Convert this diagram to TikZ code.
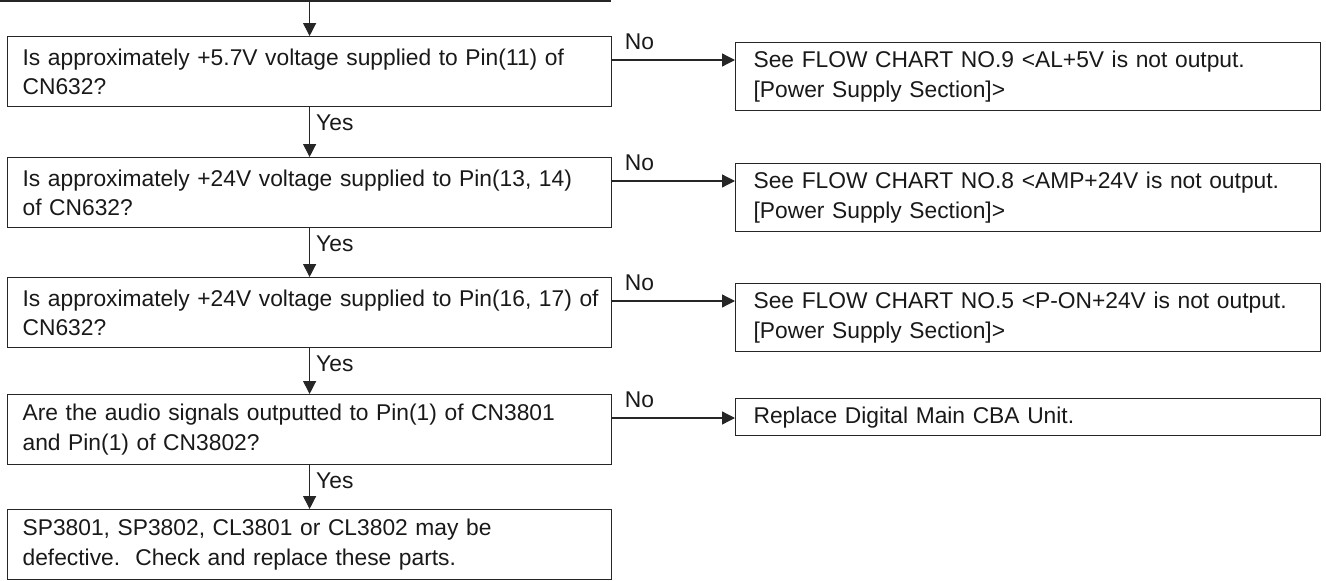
\documentclass[tikz,border=0pt]{standalone}
\usepackage{fontspec}
\setmainfont{Liberation Sans}
\usetikzlibrary{arrows.meta}
\begin{document}
\begin{tikzpicture}[x=1pt,y=-1pt,
  line width=1.2pt, draw=black!85,
  box/.style={draw=black!85, line width=1.2pt, anchor=north west, inner ysep=0pt,
    align=left, font=\fontsize{22.8}{29.5}\selectfont, text=black!90},
  lbox/.style={box, inner xsep=15pt, minimum width=604pt, minimum height=70pt, text width=574pt},
  rbox/.style={box, inner xsep=18pt, minimum width=585pt, minimum height=68pt, text width=549pt},
  arr/.style={-{Triangle[length=13pt,width=13pt]}, line width=1.3pt, draw=black!85},
  lab/.style={font=\fontsize{22.8}{28}\selectfont, text=black!90, inner sep=0pt}
]
\useasboundingbox (0,0) rectangle (1326,581);

% left boxes
\node[lbox] (q1) at (7,36) {\mbox{Is approximately +5.7V voltage supplied to Pin(11) of}\\CN632?};
\node[lbox] (q2) at (7,157) {\mbox{Is approximately +24V voltage supplied to Pin(13, 14)}\\of CN632?};
\node[lbox] (q3) at (7,277) {\mbox{Is approximately +24V voltage supplied to Pin(16, 17) of}\\CN632?};
\node[lbox] (q4) at (7,394) {\mbox{Are the audio signals outputted to Pin(1) of CN3801}\\and Pin(1) of CN3802?};
\node[lbox] (q5) at (7,509) {SP3801, SP3802, CL3801 or CL3802 may be\\defective.\ \ Check and replace these parts.};

% right boxes
\node[rbox] (r1) at (735,42) {See FLOW CHART NO.9 <AL+5V is not output.\\{[Power Supply Section]>}};
\node[rbox] (r2) at (735,163) {See FLOW CHART NO.8 <AMP+24V is not output.\\{[Power Supply Section]>}};
\node[rbox] (r3) at (735,283) {See FLOW CHART NO.5 <P-ON+24V is not output.\\{[Power Supply Section]>}};
\node[rbox, minimum height=37pt] (r4) at (735,398) {Replace Digital Main CBA Unit.};

% top incoming line
\coordinate (tl) at (0,1);
\coordinate (tr) at (611,1);
\draw (tl) -- (tr);
\coordinate (tin) at (q1.north |- tl);
\draw[arr] (tin) -- (q1.north);

% Yes arrows
\draw[arr] (q1.south) -- (q2.north);
\draw[arr] (q2.south) -- (q3.north);
\draw[arr] (q3.south) -- (q4.north);
\draw[arr] (q4.south) -- (q5.north);
\node[lab, anchor=north west] (y1) at ([xshift=6pt,yshift=-7pt]q1.south) {Yes};
\node[lab, anchor=north west] (y2) at ([xshift=6pt,yshift=-7pt]q2.south) {Yes};
\node[lab, anchor=north west] (y3) at ([xshift=6pt,yshift=-7pt]q3.south) {Yes};
\node[lab, anchor=north west] (y4) at ([xshift=6pt,yshift=-7pt]q4.south) {Yes};

% No arrows
\coordinate (n1) at (700,60);
\coordinate (n2) at (700,181);
\coordinate (n3) at (700,301);
\coordinate (n4) at (700,418);
\draw[arr] (n1 -| q1.east) -- (n1 -| r1.west);
\draw[arr] (n2 -| q2.east) -- (n2 -| r2.west);
\draw[arr] (n3 -| q3.east) -- (n3 -| r3.west);
\draw[arr] (n4 -| q4.east) -- (n4 -| r4.west);
\node[lab, anchor=base west] (no1) at ([xshift=12pt,yshift=11pt]n1 -| q1.east) {No};
\node[lab, anchor=base west] (no2) at ([xshift=12pt,yshift=11pt]n2 -| q2.east) {No};
\node[lab, anchor=base west] (no3) at ([xshift=12pt,yshift=11pt]n3 -| q3.east) {No};
\node[lab, anchor=base west] (no4) at ([xshift=12pt,yshift=11pt]n4 -| q4.east) {No};
\end{tikzpicture}
\end{document}
